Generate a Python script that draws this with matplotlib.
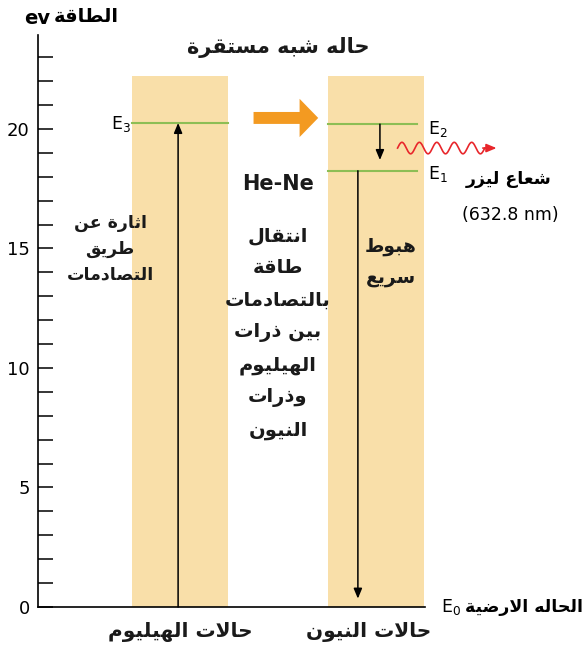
import numpy as np
import matplotlib
matplotlib.use("Agg")
import matplotlib.pyplot as plt
import matplotlib.patches as mpatches

plt.rcParams['font.family'] = ['DejaVu Sans']

# energy levels (eV)
bar_top = 22.2
e3_he = 20.25
e2_ne = 20.2
e1_ne = 18.25
ne_drop_end = 0.35
yticks = [0, 5, 10, 15, 20]

# Arabic contextual forms (presentation forms B): base codepoint, number of forms
FORMS = {
    'ا': (0xFE8D, 2), 'ب': (0xFE8F, 4), 'ة': (0xFE93, 2), 'ت': (0xFE95, 4),
    'ث': (0xFE99, 4), 'ح': (0xFEA1, 4), 'د': (0xFEA9, 2), 'ذ': (0xFEAB, 2),
    'ر': (0xFEAD, 2), 'ز': (0xFEAF, 2), 'س': (0xFEB1, 4), 'ش': (0xFEB5, 4),
    'ص': (0xFEB9, 4), 'ض': (0xFEBD, 4), 'ط': (0xFEC1, 4), 'ع': (0xFEC9, 4),
    'ق': (0xFED5, 4), 'ل': (0xFEDD, 4), 'م': (0xFEE1, 4), 'ن': (0xFEE5, 4),
    'ه': (0xFEE9, 4), 'و': (0xFEED, 2), 'ي': (0xFEF1, 4),
}


def shape(text):
    # join letters and reverse for right-to-left drawing
    out = []
    i = 0
    while i < len(text):
        c = text[i]
        prev = text[i - 1] if i > 0 else ''
        nxt = text[i + 1] if i + 1 < len(text) else ''
        if c not in FORMS:
            out.append(c)
            i += 1
            continue
        join_prev = prev in FORMS and FORMS[prev][1] == 4
        if c == 'ل' and nxt == 'ا':
            out.append(chr(0xFEFC if join_prev else 0xFEFB))
            i += 2
            continue
        base, n = FORMS[c]
        join_next = n == 4 and nxt in FORMS
        if n == 4:
            if join_prev and join_next:
                code = base + 3
            elif join_prev:
                code = base + 1
            elif join_next:
                code = base + 2
            else:
                code = base
        else:
            code = base + 1 if join_prev else base
        out.append(chr(code))
        i += 1
    return ''.join(reversed(out))


def ar(lines):
    return '\n'.join(shape(l) for l in lines)


fig = plt.figure(figsize=(5.88, 6.47), dpi=100)
ax = fig.add_axes([38 / 588, 40 / 647, 387 / 588, 572 / 647])
ax.set_xlim(0, 3.95)
ax.set_ylim(0, 23.93)

bar_color = '#F9DFA9'
green = '#8DBE55'
he_x, ne_x, w = 1.45, 3.45, 0.98

# atom columns
ax.bar([he_x, ne_x], [bar_top, bar_top], width=w, color=bar_color, zorder=1)

# levels
ax.plot([he_x - w / 2, he_x + w / 2], [e3_he, e3_he], color=green, lw=1.5, zorder=2)
ax.plot([ne_x - w / 2, ne_x + 0.42], [e2_ne, e2_ne], color=green, lw=1.5, zorder=2)
ax.plot([ne_x - w / 2, ne_x + 0.42], [e1_ne, e1_ne], color=green, lw=1.5, zorder=2)

# transitions
arr = dict(arrowstyle='-|>,head_length=0.6,head_width=0.25', color='black', lw=1.1,
           shrinkA=0, shrinkB=0)
ax.annotate('', xy=(1.43, e3_he), xytext=(1.43, 0), arrowprops=arr, zorder=3)
ax.annotate('', xy=(3.49, 18.7), xytext=(3.49, e2_ne), arrowprops=arr, zorder=3)
ax.annotate('', xy=(3.265, ne_drop_end), xytext=(3.265, e1_ne), arrowprops=arr, zorder=3)

# energy transfer arrow
ax.add_patch(mpatches.FancyArrow(2.2, 20.46, 0.47, 0, width=0.5, head_width=1.6,
                                 head_length=0.19, length_includes_head=False,
                                 color='#F39A21', lw=0, zorder=3))

# laser photon
wx = np.linspace(3.67, 4.56, 200)
wy = 19.2 + 0.24 * np.sin((wx - 3.67) / 0.89 * 5 * 2 * np.pi)
ax.plot(wx, wy, color='#E8262B', lw=1.2, clip_on=False, zorder=3)
ax.annotate('', xy=(4.68, 19.2), xytext=(4.54, 19.2), annotation_clip=False,
            arrowprops=dict(arrowstyle='-|>,head_length=0.6,head_width=0.25',
                            color='#E8262B', lw=1.2, shrinkA=0, shrinkB=0))

# axes styling
for s in ['top', 'right']:
    ax.spines[s].set_visible(False)
ax.spines['left'].set_linewidth(1.2)
ax.spines['bottom'].set_linewidth(1.2)
ax.set_xticks([])
ax.set_yticks(yticks)
ax.set_yticks(range(0, 24), minor=True)
ax.tick_params(axis='y', which='both', direction='in', length=10.5, width=1.1,
               labelsize=13, pad=6)

# texts
kw = dict(ha='center', va='center', fontweight='bold', color='#1a1a1a', clip_on=False)
fig.text(50 / 588, 1 - 18 / 647, 'ev', ha='right', va='center', fontsize=14,
         fontweight='bold')
fig.text(54 / 588, 1 - 17 / 647, shape('الطاقة'), ha='left', va='center',
         fontsize=14, fontweight='bold')
ax.text(2.45, 23.4, shape('حاله شبه مستقرة'), fontsize=15, **kw)
ax.text(2.45, 17.7, 'He-Ne', fontsize=15, **kw)
ax.text(2.45, 11.46, ar(['انتقال', 'طاقة', 'بالتصادمات', 'بين ذرات', 'الهيليوم',
                         'وذرات', 'النيون']), fontsize=14, linespacing=1.86, **kw)
ax.text(0.735, 14.98, ar(['اثارة عن', 'طريق', 'التصادمات']), fontsize=12.5,
        linespacing=1.55, **kw)
ax.text(3.6, 14.43, ar(['هبوط', 'سريع']), fontsize=13.5, linespacing=1.8, **kw)

ax.text(0.95, 20.2, '$\\mathregular{E_3}$', ha='right', va='center', fontsize=12.5, clip_on=False)
ax.text(4.08, 20.0, '$\\mathregular{E_2}$', ha='center', va='center', fontsize=12.5, clip_on=False)
ax.text(4.08, 18.1, '$\\mathregular{E_1}$', ha='center', va='center', fontsize=12.5, clip_on=False)
ax.text(4.22, 0.0, '$\\mathregular{E_0}$', ha='center', va='center', fontsize=12.5, clip_on=False)
ax.text(4.36, 0.0, shape('الحاله الارضية'), ha='left', va='center', fontsize=12.5,
        fontweight='bold', clip_on=False)
ax.text(4.8, 17.9, shape('شعاع ليزر'), ha='center', va='center', fontsize=12.5,
        fontweight='bold', clip_on=False)
ax.text(4.82, 16.4, '(632.8 nm)', ha='center', va='center', fontsize=12.5, clip_on=False)

ax.text(1.45, -1.05, shape('حالات الهيليوم'), fontsize=14.5, **kw)
ax.text(3.37, -1.05, shape('حالات النيون'), fontsize=14.5, **kw)

fig.savefig('out.png', dpi=100)
